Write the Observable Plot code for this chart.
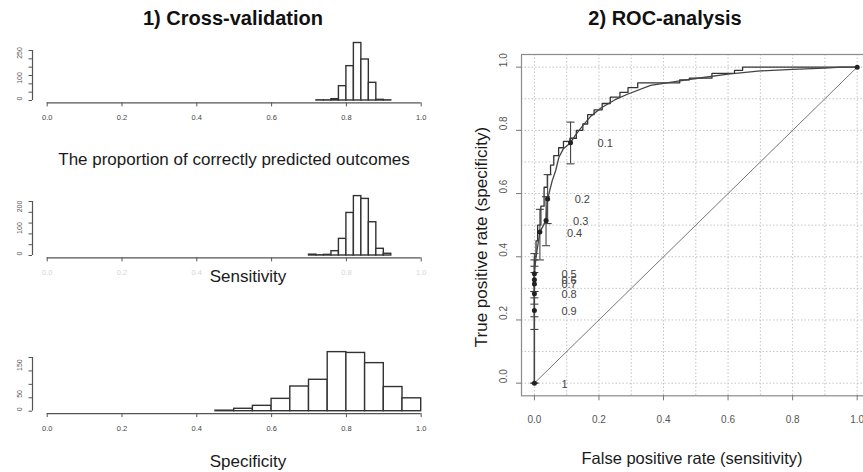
<!DOCTYPE html>
<html><head><meta charset="utf-8">
<script src="https://cdn.jsdelivr.net/npm/d3@7"></script>
<script src="https://cdn.jsdelivr.net/npm/@observablehq/plot@0.6"></script>
<style>
html,body{margin:0;padding:0;background:#fff;overflow:hidden;}
#root{position:relative;width:863px;height:472px;overflow:hidden;font-family:"Liberation Sans",Arial,sans-serif;}
.t{position:absolute;transform:translate(-50%,-50%);white-space:nowrap;color:#1a1a1a;}
.box{position:absolute;}
</style></head><body><div id="root"></div>
<script>
// ---------- DATA ----------
// Histogram 1: proportion of correctly predicted outcomes (bin width 0.02)
const accBins   = [0.72,0.74,0.76,0.78,0.80,0.82,0.84,0.86,0.88,0.90];
const accCounts = [1,1,8,86,206,345,246,106,4,1];
// Histogram 2: sensitivity (bin width 0.02)
const sensBins   = [0.70,0.72,0.74,0.76,0.78,0.80,0.82,0.84,0.86,0.88,0.90];
const sensCounts = [4,1,3,20,77,197,275,262,154,31,8];
// Histogram 3: specificity (bin width 0.05)
const specBins   = [0.45,0.50,0.55,0.60,0.65,0.70,0.75,0.80,0.85,0.90,0.95];
const specCounts = [2,9,20,46,92,117,220,217,179,90,48];
const binWidths = {acc:0.02, sens:0.02, spec:0.05};

const histXTicks = [0,0.2,0.4,0.6,0.8,1.0];
const accYTicks = [0,50,100,150,200,250,300];   const accYLabels = [0,100,250];
const sensYTicks = [0,50,100,150,200,250];      const sensYLabels = [0,100,200];
const specYTicks = [0,50,100,150,200];          const specYLabels = [0,50,150];

// ROC: threshold-averaged points
const cutLabels = ["1","0.9","0.8","0.7","0.6","0.5","0.4","0.3","0.2","0.1"];
const cutFpr    = [0,0,0,0,0,0,0.017,0.036,0.041,0.112];
const cutTpr    = [0,0.23,0.283,0.314,0.327,0.346,0.478,0.515,0.583,0.761];
const cutTprLo  = [0,0.17,0.21,0.25,0.27,0.29,0.39,0.435,0.505,0.694];
const cutTprHi  = [0,0.29,0.35,0.37,0.39,0.41,0.55,0.59,0.66,0.826];
const endPoint = [[1,1]];
// averaged (smooth) ROC curve
const avgCurve = [[0,0],[0,0.23],[0,0.283],[0,0.314],[0,0.327],[0,0.346],[0.005,0.40],[0.017,0.478],[0.036,0.515],[0.041,0.583],[0.055,0.64],[0.066,0.673],[0.076,0.715],[0.09,0.742],[0.112,0.761],[0.127,0.785],[0.15,0.815],[0.175,0.845],[0.205,0.87],[0.25,0.897],[0.29,0.915],[0.36,0.942],[0.44,0.955],[0.5,0.964],[0.6,0.978],[0.7,0.988],[0.8,0.993],[0.9,0.997],[0.95,1.0],[1,1]];
// empirical step ROC curve
const stepCurve = [[0,0],[0,0.40],[0.005,0.40],[0.005,0.45],[0.01,0.45],[0.01,0.50],[0.02,0.50],[0.02,0.56],[0.03,0.56],[0.03,0.62],[0.04,0.62],[0.04,0.66],[0.05,0.66],[0.05,0.69],[0.06,0.69],[0.06,0.72],[0.075,0.72],[0.075,0.745],[0.09,0.745],[0.09,0.765],[0.11,0.765],[0.11,0.775],[0.13,0.775],[0.13,0.80],[0.15,0.80],[0.15,0.82],[0.165,0.82],[0.165,0.85],[0.185,0.85],[0.185,0.865],[0.21,0.865],[0.21,0.885],[0.235,0.885],[0.235,0.905],[0.265,0.905],[0.265,0.92],[0.29,0.92],[0.29,0.935],[0.32,0.935],[0.32,0.95],[0.38,0.95],[0.45,0.95],[0.45,0.96],[0.48,0.96],[0.48,0.965],[0.55,0.965],[0.55,0.98],[0.62,0.98],[0.62,0.99],[0.645,0.99],[0.645,1.0],[1,1]];
const diagLine = [[0,0],[1,1]];
const rocTicks = [0,0.2,0.4,0.6,0.8,1.0];
const rocGrid = [0,0.1,0.2,0.3,0.4,0.5,0.6,0.7,0.8,0.9,1.0];

// ---------- LAYOUT ----------
const root = document.getElementById("root");
function addText(txt, x, y, css){
  const d = document.createElement("div"); d.className="t"; d.textContent=txt;
  d.style.left=x+"px"; d.style.top=y+"px"; d.style.cssText += css; root.appendChild(d); return d;
}
function place(node, left, top, w){
  const d = document.createElement("div"); d.className="box";
  d.style.left=left+"px"; d.style.top=top+"px"; d.style.width=w+"px";
  d.appendChild(node); root.appendChild(d);
}
const fontFam = '"Liberation Sans", Arial, sans-serif';

function histogram({bins, counts, w, yTicks, yLabels, topVal, H, marginTop, marginBottom, xLabelFill}){
  const table = bins.map((b,i)=>({x1:b, x2:b+w, n:counts[i]}));
  return Plot.plot({
    width:440, height:H, marginLeft:32, insetLeft:14.7, marginRight:19.3,
    marginTop, marginBottom, insetBottom:2.4,
    style:{fontFamily:fontFam, maxWidth:"none", overflow:"visible", background:"transparent"},
    x:{domain:[0,1]}, y:{domain:[0,topVal]},
    marks:[
      Plot.rectY(table,{x1:"x1",x2:"x2",y:"n",fill:"white",stroke:"#333",strokeWidth:1.4}),
      Plot.ruleY([0],{x1:0,x2:1,dy:2.4,stroke:"#555",strokeWidth:1.2}),
      Plot.axisX({ticks:histXTicks,tickSize:4,tickPadding:8,fontSize:7.5,tickFormat:d3.format(".1f"),stroke:"#555",fill:xLabelFill,label:null}),
      Plot.ruleX([0],{y1:0,y2:yTicks[yTicks.length-1],dx:-14.7,stroke:"#555",strokeWidth:1.2}),
      Plot.axisY({ticks:yTicks,tickSize:3.5,tickFormat:()=>"",stroke:"#555",label:null}),
      Plot.text(yLabels,{y:d=>d,text:d=>String(d),frameAnchor:"left",dx:-13,rotate:-90,fontSize:7,fill:"#555"})
    ]
  });
}

addText("1) Cross-validation",233,18,"font-weight:bold;font-size:20px;color:#111;");
addText("2) ROC-analysis",665,18,"font-weight:bold;font-size:20px;color:#111;");

place(histogram({bins:accBins,counts:accCounts,w:binWidths.acc,yTicks:accYTicks,yLabels:accYLabels,topVal:300,H:100,marginTop:20,marginBottom:27.6,xLabelFill:"#444"}),0,30,440);
addText("The proportion of correctly predicted outcomes",234,160,"font-size:17px;");

place(histogram({bins:sensBins,counts:sensCounts,w:binWidths.sens,yTicks:sensYTicks,yLabels:sensYLabels,topVal:250,H:100,marginTop:21,marginBottom:22.6,xLabelFill:"#d6d6d6"}),0,180,440);
addText("Sensitivity",248,277,"font-size:17px;");

place(histogram({bins:specBins,counts:specCounts,w:binWidths.spec,yTicks:specYTicks,yLabels:specYLabels,topVal:200,H:110,marginTop:27,marginBottom:26.9,xLabelFill:"#444"}),0,330,440);
addText("Specificity",248,462,"font-size:17px;");

// ROC panel
const cuts = cutLabels.map((l,i)=>({l, x:cutFpr[i], y:cutTpr[i], lo:cutTprLo[i], hi:cutTprHi[i]}));
const hcap = {draw(ctx,size){const r=Math.sqrt(size/Math.PI); ctx.moveTo(-r,0); ctx.lineTo(r,0);}};
const roc = Plot.plot({
  width:440, height:442, marginLeft:61, marginRight:30.4, marginTop:24, marginBottom:76.7,
  style:{fontFamily:fontFam, maxWidth:"none", overflow:"visible", background:"transparent"},
  x:{domain:[-0.04,1.04]}, y:{domain:[-0.04,1.04]},
  marks:[
    Plot.gridX({ticks:rocGrid,stroke:"#c4c4c4",strokeOpacity:1,strokeDasharray:"1.5,2"}),
    Plot.gridY({ticks:rocGrid,stroke:"#c4c4c4",strokeOpacity:1,strokeDasharray:"1.5,2"}),
    Plot.frame({stroke:"#8a8a8a",strokeWidth:1.2}),
    Plot.axisX({ticks:rocTicks,tickSize:5,tickPadding:15,fontSize:10,tickFormat:d3.format(".1f"),stroke:"#777",fill:"#555",label:null}),
    Plot.axisY({ticks:rocTicks,tickSize:5,tickFormat:()=>"",stroke:"#777",label:null}),
    Plot.text(rocTicks,{y:d=>d,text:d=>d.toFixed(1),frameAnchor:"left",dx:-18,rotate:-90,fontSize:10,fill:"#555"}),
    Plot.line(diagLine,{x:d=>d[0],y:d=>d[1],stroke:"#777",strokeWidth:1}),
    Plot.line(stepCurve,{x:d=>d[0],y:d=>d[1],stroke:"#333",strokeWidth:1.3}),
    Plot.line(avgCurve,{x:d=>d[0],y:d=>d[1],stroke:"#444",strokeWidth:1.3}),
    Plot.ruleX(cuts,{x:"x",y1:"lo",y2:"hi",stroke:"#444",strokeWidth:1.1}),
    Plot.dot(cuts,{x:"x",y:"lo",symbol:hcap,r:4,stroke:"#444",strokeWidth:1.1,fill:"none"}),
    Plot.dot(cuts,{x:"x",y:"hi",symbol:hcap,r:4,stroke:"#444",strokeWidth:1.1,fill:"none"}),
    Plot.dot(cuts,{x:"x",y:"y",r:2.5,fill:"#222",stroke:"none"}),
    Plot.dot(endPoint,{x:d=>d[0],y:d=>d[1],r:2.5,fill:"#222",stroke:"none"}),
    Plot.text(cuts,{x:"x",y:"y",text:"l",dx:27,dy:1,textAnchor:"start",fontSize:11,fill:"#444"})
  ]
});
place(roc,460,30,440);
addText("True positive rate (specificity)",482,237,"font-size:17px;transform:translate(-50%,-50%) rotate(-90deg);");
addText("False positive rate (sensitivity)",692,458,"font-size:16.5px;");
</script></body></html>
